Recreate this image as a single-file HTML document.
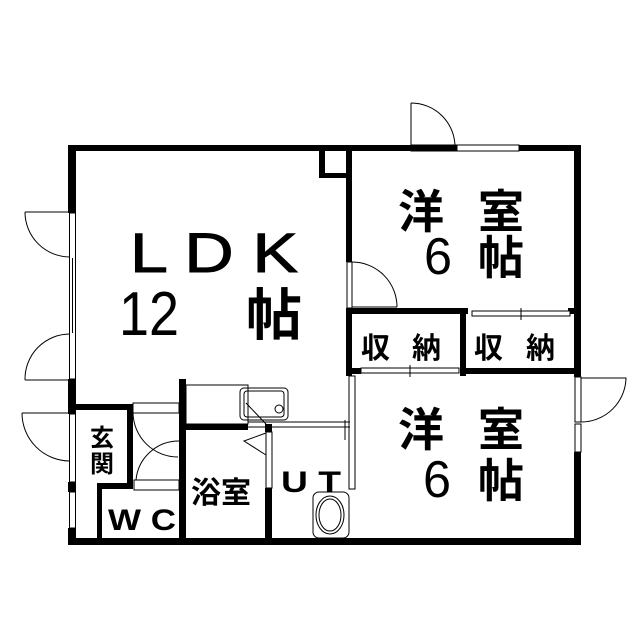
<!DOCTYPE html>
<html><head><meta charset="utf-8"><style>
html,body{margin:0;padding:0;background:#fff}
svg{display:block}
text{font-family:"Liberation Sans","Noto Sans CJK JP",sans-serif;fill:#000}
.j{font-weight:bold}
</style></head><body>
<svg width="640" height="640" viewBox="0 0 640 640" xmlns="http://www.w3.org/2000/svg">
<g fill="#000">
<rect x="68" y="145" width="513" height="6"/>
<rect x="68" y="145" width="8" height="68"/>
<rect x="68" y="379" width="8" height="35"/>
<rect x="68" y="482" width="8" height="10"/>
<rect x="68" y="528" width="8" height="17"/>
<rect x="68" y="538" width="513" height="7"/>
<rect x="574" y="145" width="7" height="232"/>
<rect x="574" y="452" width="7" height="93"/>
<rect x="319" y="145" width="6" height="33"/>
<rect x="319" y="173" width="31" height="5"/>
<rect x="346" y="145" width="6" height="117"/>
<rect x="346" y="308" width="6" height="68"/>
<rect x="346" y="308" width="122" height="6"/>
<rect x="568" y="308" width="13" height="6"/>
<rect x="460" y="308" width="6" height="68"/>
<rect x="460" y="368" width="121" height="6"/>
<rect x="346" y="368" width="15" height="6"/>
<rect x="68" y="404" width="63" height="6"/>
<rect x="127" y="404" width="6" height="82"/>
<rect x="97" y="483" width="36" height="6"/>
<rect x="97" y="483" width="5" height="60"/>
<rect x="179" y="379" width="7" height="166"/>
<rect x="186" y="424" width="62" height="6"/>
<rect x="265" y="488" width="7" height="55"/>
<rect x="265" y="424" width="7" height="8"/>
</g>
<g fill="none" stroke="#000" stroke-width="1">
<rect x="69.5" y="213" width="6" height="166"/>
<line x1="72.5" y1="258" x2="72.5" y2="333"/>
<line x1="25" y1="212" x2="70" y2="212"/>
<path d="M25 212 A45 45 0 0 0 70 257"/>
<line x1="25" y1="380" x2="70" y2="380"/>
<path d="M25 380 A45 45 0 0 1 70 334"/>
<rect x="69.5" y="414" width="6" height="68"/>
<line x1="22" y1="413" x2="70" y2="413"/>
<path d="M22 413 A48 48 0 0 0 70 461"/>
<rect x="69.5" y="492" width="6" height="36"/>
<rect x="411" y="145" width="45" height="6"/>
<rect x="457" y="145" width="62" height="6" fill="#fff"/>
<line x1="411" y1="103" x2="411" y2="146"/>
<path d="M411 103 A44 44 0 0 1 455 147"/>
<rect x="347" y="262" width="5" height="46" fill="#fff"/>
<path d="M352 262 A45 45 0 0 1 397 307"/>
<line x1="352" y1="307" x2="397" y2="307"/>
<rect x="472" y="311" width="98" height="5" fill="#fff"/>
<line x1="521" y1="308" x2="521" y2="320"/>
<rect x="361" y="368" width="98" height="5" fill="#fff"/>
<line x1="410" y1="365" x2="410" y2="377"/>
<rect x="349" y="376" width="6" height="113" fill="#fff"/>
<line x1="345" y1="420" x2="345" y2="440"/>
<rect x="575" y="377" width="6" height="45" fill="#fff"/>
<rect x="575" y="424" width="6" height="28" fill="#fff"/>
<path d="M581 378 L626 378 A45 45 0 0 1 581 422"/>
<rect x="133" y="403" width="46" height="10"/>
<rect x="134" y="480" width="45" height="10"/>
<path d="M133 413 A45 45 0 0 0 178 457"/>
<path d="M136 480 A43 43 0 0 1 179 441"/>
<line x1="102" y1="485" x2="132" y2="485"/>
<rect x="186" y="385" width="62" height="39"/>
<rect x="240" y="388" width="48" height="32" rx="4"/>
<rect x="244" y="391" width="40" height="26" rx="3"/>
<circle cx="279" cy="409" r="4"/>
<line x1="248" y1="422" x2="350" y2="422"/>
<line x1="248" y1="427" x2="350" y2="427"/>
<line x1="246" y1="403" x2="266" y2="424"/>
<rect x="266" y="432" width="6" height="56" fill="#fff"/>
<path d="M266 433 L244 441 L266 455"/>
<rect x="313" y="492" width="36" height="46" rx="6"/>
<ellipse cx="330" cy="515" rx="14" ry="19"/>
<ellipse cx="330" cy="515" rx="11" ry="16"/>
</g>
<text x="130" y="272" font-size="56" textLength="168" lengthAdjust="spacingAndGlyphs" stroke="#000" stroke-width="1">L D K</text>
<text x="119" y="335" font-size="62" textLength="60" lengthAdjust="spacingAndGlyphs">12</text>
<text class="j" x="246" y="335" font-size="56">帖</text>
<text class="j" x="398" y="228" font-size="46">洋</text>
<text class="j" x="478" y="228" font-size="46">室</text>
<text x="424" y="274" font-size="52" textLength="28" lengthAdjust="spacingAndGlyphs">6</text>
<text class="j" x="478" y="274" font-size="46">帖</text>
<text class="j" x="398" y="446" font-size="46">洋</text>
<text class="j" x="478" y="446" font-size="46">室</text>
<text x="423" y="497" font-size="52" textLength="28" lengthAdjust="spacingAndGlyphs">6</text>
<text class="j" x="478" y="497" font-size="46">帖</text>
<text class="j" x="361" y="358" font-size="29">収</text>
<text class="j" x="412" y="358" font-size="29">納</text>
<text class="j" x="474" y="358" font-size="29">収</text>
<text class="j" x="526" y="358" font-size="29">納</text>
<text class="j" x="90" y="446" font-size="24">玄</text>
<text class="j" x="90" y="472" font-size="24">関</text>
<text class="j" x="108" y="530" font-size="30" textLength="68" lengthAdjust="spacingAndGlyphs">W C</text>
<text class="j" x="191" y="503" font-size="30">浴室</text>
<text class="j" x="281" y="492" font-size="30" textLength="60" lengthAdjust="spacingAndGlyphs">U T</text>
</svg>
</body></html>
